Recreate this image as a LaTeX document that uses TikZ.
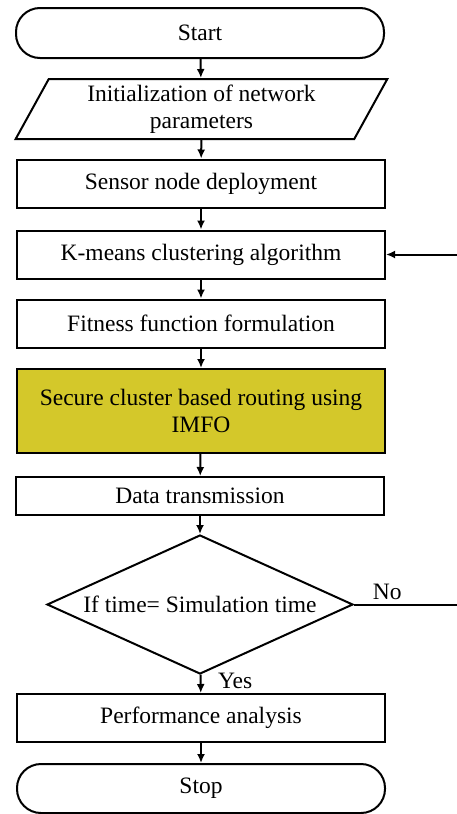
\documentclass[tikz,border=0pt]{standalone}
\usepackage{fontspec}
\setmainfont{Liberation Serif}
\usetikzlibrary{arrows.meta,shapes.geometric}

\definecolor{imfoyellow}{RGB}{212,200,42}

\begin{document}
\begin{tikzpicture}[x=1pt,y=-1pt,
  font=\fontsize{23.5}{27}\selectfont,
  box/.style={draw,line width=2pt,minimum width=368pt,minimum height=48pt,inner sep=0pt,align=center},
  term/.style={box,rounded corners=24pt,minimum height=50pt},
  io/.style={draw,line width=2pt,trapezium,trapezium left angle=63,trapezium right angle=117,
    trapezium stretches=true,minimum width=373pt,minimum height=60pt,inner sep=0pt,align=center},
  decide/.style={draw,line width=2pt,diamond,aspect=2.2,minimum width=306pt,minimum height=139pt,inner sep=0pt},
  arr/.style={line width=2pt,-{Latex[length=9pt,width=8pt]}}]
  \useasboundingbox (0,0) rectangle (457,814);

  % main column
  \node[term] (start) at (200,33) {Start};
  \node[io] (init) at (201.5,109) {Initialization of network\\parameters};
  \node[box] (sensor) at (201,183.5) {Sensor node deployment};
  \node[box] (kmeans) at (201,254.5) {K-means clustering algorithm};
  \node[box] (fitness) at (201,323.5) {Fitness function formulation};
  \node[box,fill=imfoyellow,minimum height=84pt] (secure) at (201,411) {Secure cluster based routing using\\IMFO};
  \node[box,minimum height=38pt] (data) at (200,496) {Data transmission};
  \node[decide] (check) at (200,604.5) {If time= Simulation time};
  \node[box] (perf) at (201,718) {Performance analysis};
  \node[term,minimum height=49pt] (stop) at (201,788.5) {Stop};

  % loop back corner
  \coordinate (loop) at (458.2,604.5);

  % flow
  \draw[arr] (start) -- (init);
  \draw[arr] (init) -- (sensor);
  \draw[arr] (sensor) -- (kmeans);
  \draw[arr] (kmeans) -- (fitness);
  \draw[arr] (fitness) -- (secure);
  \draw[arr] (secure) -- (data);
  \draw[arr] (data) -- (check);
  \draw[arr] (check) -- node[midway,anchor=west,xshift=13pt,yshift=3pt] {Yes} (perf);
  \draw[arr] (perf) -- (stop);
  \draw[arr] (check.east) -- node[pos=0.32,above] {No} (loop) |- (kmeans.east);
\end{tikzpicture}
\end{document}
